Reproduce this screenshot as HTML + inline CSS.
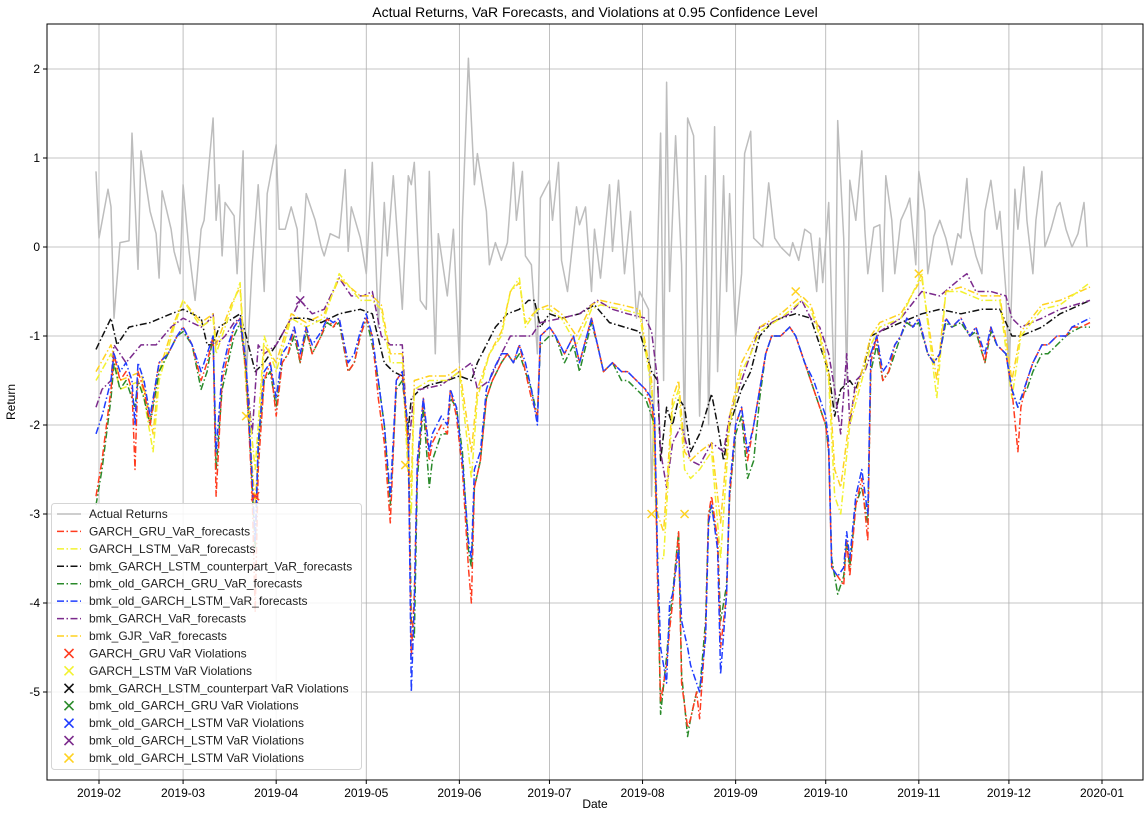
<!DOCTYPE html>
<html><head><meta charset="utf-8">
<style>
html,body{margin:0;padding:0;background:#fff;}
svg{display:block;font-family:"Liberation Sans","DejaVu Sans",sans-serif;}
</style></head>
<body>
<svg id="chart" width="1146" height="813" viewBox="0 0 1146 813">
<rect x="0" y="0" width="1146" height="813" fill="#fff"/>
<text x="595" y="17" font-size="14" text-anchor="middle" fill="#000">Actual Returns, VaR Forecasts, and Violations at 0.95 Confidence Level</text>
<text x="595" y="808" font-size="12" text-anchor="middle" fill="#000">Date</text>
<text x="15" y="402" font-size="12" text-anchor="middle" fill="#000" transform="rotate(-90 15 402)">Return</text>
<g id="grid"></g>
<g id="series"></g>
<rect x="47" y="24" width="1096" height="756" fill="none" stroke="#000" stroke-width="1"/>
<g id="ticks"></g>
<g id="legend"></g>
</svg>
<script>
// ---- data ----
const yTicks = [2, 1, 0, -1, -2, -3, -4, -5];
const xTickLabels = ["2019-02","2019-03","2019-04","2019-05","2019-06","2019-07","2019-08","2019-09","2019-10","2019-11","2019-12","2020-01"];
const xTickDays = [31, 59, 90, 120, 151, 181, 212, 243, 273, 304, 334, 365];

const actualDays = [30,31,34,35,36,38,41,42,44,45,48,50,51,52,55,56,58,59,61,63,65,66,69,70,71,72,73,76,77,79,80,82,84,86,87,90,91,93,95,97,98,100,102,103,105,106,108,111,113,114,115,118,120,122,124,126,127,129,131,132,134,135,136,138,140,141,143,144,147,149,151,152,154,156,157,160,161,163,165,167,169,170,172,173,175,177,178,181,182,184,185,187,190,191,193,195,196,198,201,202,204,206,208,210,211,214,215,218,219,220,221,223,225,226,227,229,231,233,234,236,237,239,240,241,243,245,246,248,249,252,254,256,258,261,262,264,266,268,270,271,272,274,276,277,279,280,281,283,285,286,287,289,291,292,293,295,296,298,300,301,303,304,306,307,309,311,313,315,317,318,320,321,323,325,326,328,330,331,333,334,336,337,339,340,342,343,345,346,348,350,351,353,355,357,359,360];
const actualVals = [0.85,0.1,0.65,0.45,-0.8,0.05,0.07,1.28,-0.25,1.08,0.4,0.15,-0.35,0.63,0.2,-0.05,-0.3,0.7,-0.05,-0.6,0.2,0.3,1.45,0.3,0.7,-0.1,0.5,0.35,-0.3,1.08,-1.5,-0.2,0.7,-0.5,0.6,1.15,0.2,0.2,0.45,0.2,-0.5,0.6,0.4,0.3,0,-0.1,0.15,0.1,0.87,-0.05,0.45,0.1,-0.3,0.95,-0.9,0.5,-0.1,0.8,-0.2,-0.7,0.8,0.7,0.95,-0.6,-0.7,0.85,-1.2,0.15,-0.55,0.2,-1.3,0.3,2.12,0.7,1.05,0.4,-0.2,0.05,-0.15,0.05,0.95,0.3,0.85,-0.1,-0.2,-1.2,0.55,0.75,0.3,0.95,-0.15,-0.5,0.45,0.25,0.45,-0.5,0.2,-0.35,0.7,-0.05,0.75,-0.3,0.4,-0.8,-0.5,-0.7,-2.8,1.28,-1.5,1.85,-0.5,1.25,-0.2,-2.2,1.45,1.25,-1.9,0.8,-2.0,1.35,-1.4,0.8,-0.5,0.6,-1.0,-0.3,1.05,1.3,0.1,0.0,0.72,0.1,0.0,-0.1,0.05,-0.15,0.2,0.15,-0.5,0.1,-0.4,0.5,-1.8,1.42,0.1,-1.5,0.75,0.3,1.08,0.2,-0.3,0.22,0.25,-0.5,0.8,0.3,-0.3,0.3,0.45,0.55,-0.2,0.85,0.4,-0.3,0.12,0.3,0.1,-0.2,0.15,0.1,0.77,0.2,-0.1,-0.3,0.4,0.75,0.2,0.4,-0.5,-1.5,0.65,0.2,0.9,0.3,-0.3,0.3,0.85,0.0,0.2,0.45,0.5,0.2,0.0,0.15,0.5,0.0];

const garchDays = [30,32,35,36,38,40,42,43,44,46,48,50,51,54,57,59,62,65,67,69,70,72,74,76,78,80,82,83,84,86,88,90,92,94,96,98,100,102,105,107,109,111,114,116,118,120,122,124,126,128,130,132,134,135,136,137,139,141,142,145,147,148,150,152,154,155,156,158,160,162,165,167,169,171,173,175,177,178,181,183,186,189,191,195,197,199,202,205,207,210,213,215,216,217,218,220,221,222,224,225,227,228,230,231,233,234,235,237,238,240,241,243,245,247,249,251,253,255,258,261,263,266,269,271,273,274,275,277,279,280,281,283,285,287,288,290,292,294,296,298,300,302,304,307,309,311,313,315,318,321,323,326,328,330,333,335,337,338,340,342,345,347,350,353,355,358,361];
const garchGruVals = [-2.8,-2.4,-1.6,-1.2,-1.5,-1.4,-1.6,-2.5,-1.4,-1.6,-2.0,-1.5,-1.3,-1.2,-1.0,-0.9,-1.1,-1.5,-1.3,-1.0,-2.8,-1.5,-1.2,-0.9,-0.8,-1.4,-2.8,-4.1,-2.5,-1.5,-1.3,-1.9,-1.3,-1.2,-0.9,-1.3,-0.9,-1.2,-1.0,-0.8,-0.9,-0.8,-1.4,-1.3,-1.0,-0.8,-1.0,-1.7,-2.2,-3.1,-1.5,-1.4,-2.2,-4.6,-3.9,-2.5,-1.7,-2.4,-2.2,-2.0,-2.1,-1.6,-1.9,-2.5,-3.6,-4.0,-2.7,-2.4,-1.7,-1.5,-1.3,-1.2,-1.3,-1.1,-1.4,-1.7,-1.9,-1.0,-0.9,-1.0,-1.2,-1.0,-1.3,-0.8,-1.1,-1.4,-1.3,-1.4,-1.4,-1.5,-1.6,-1.8,-2.0,-3.8,-5.1,-4.7,-4.3,-4.0,-3.2,-4.9,-5.4,-5.3,-5.0,-5.3,-4.3,-3.0,-2.8,-3.3,-4.5,-3.9,-2.8,-2.0,-1.8,-2.4,-2.0,-1.6,-1.2,-1.0,-1.0,-0.9,-1.0,-1.3,-1.6,-1.8,-2.0,-2.3,-3.6,-3.7,-3.8,-3.3,-3.7,-2.9,-2.6,-3.3,-1.3,-1.0,-1.5,-1.4,-1.1,-1.0,-0.8,-0.9,-0.8,-1.2,-1.3,-1.2,-0.8,-0.9,-0.8,-1.0,-0.9,-1.3,-0.9,-1.1,-1.2,-1.6,-2.3,-1.8,-1.5,-1.3,-1.1,-1.1,-1.0,-1.0,-0.9,-0.9,-0.85];
const oldGruVals = [-2.9,-2.5,-1.7,-1.3,-1.6,-1.5,-1.7,-1.8,-1.5,-1.7,-2.0,-1.6,-1.4,-1.2,-1.0,-0.95,-1.1,-1.6,-1.4,-1.0,-2.5,-1.6,-1.3,-1.0,-0.85,-1.4,-2.7,-3.4,-2.3,-1.5,-1.4,-1.8,-1.3,-1.2,-1.0,-1.3,-0.95,-1.2,-1.0,-0.85,-0.9,-0.85,-1.4,-1.3,-1.0,-0.8,-1.1,-1.5,-2.0,-2.9,-1.6,-1.5,-2.1,-4.2,-4.4,-2.6,-1.8,-2.7,-2.4,-2.1,-2.1,-1.7,-1.8,-2.3,-3.4,-3.6,-2.7,-2.4,-1.7,-1.5,-1.3,-1.2,-1.3,-1.2,-1.4,-1.6,-1.9,-1.1,-1.0,-1.0,-1.3,-1.1,-1.4,-0.85,-1.1,-1.4,-1.3,-1.5,-1.5,-1.6,-1.7,-1.9,-2.0,-3.6,-5.25,-4.6,-4.2,-3.9,-3.2,-4.8,-5.5,-5.3,-5.0,-5.0,-4.2,-3.0,-2.9,-3.3,-4.2,-3.8,-2.8,-2.1,-1.9,-2.6,-2.4,-1.7,-1.2,-1.0,-1.0,-0.9,-1.0,-1.3,-1.6,-1.8,-2.0,-2.3,-3.5,-3.9,-3.7,-3.3,-3.6,-2.9,-2.7,-3.1,-1.4,-1.1,-1.5,-1.4,-1.2,-1.0,-0.85,-0.9,-0.85,-1.2,-1.3,-1.2,-0.85,-0.9,-0.85,-1.0,-0.95,-1.3,-0.95,-1.1,-1.2,-1.6,-1.8,-1.7,-1.6,-1.4,-1.2,-1.2,-1.1,-1.0,-0.95,-0.9,-0.9];
const oldLstmVals = [-2.1,-1.9,-1.5,-1.2,-1.4,-1.3,-1.5,-2.0,-1.3,-1.5,-1.9,-1.5,-1.3,-1.2,-1.0,-0.9,-1.1,-1.4,-1.2,-1.0,-2.3,-1.4,-1.1,-0.9,-0.8,-1.3,-2.6,-3.3,-2.2,-1.4,-1.3,-1.7,-1.2,-1.1,-0.9,-1.2,-0.9,-1.1,-0.95,-0.8,-0.85,-0.8,-1.3,-1.2,-0.95,-0.75,-1.0,-1.5,-2.0,-2.8,-1.5,-1.4,-2.1,-5.0,-4.0,-2.4,-1.7,-2.3,-2.1,-1.9,-2.0,-1.6,-1.8,-2.4,-3.3,-3.5,-2.5,-2.3,-1.6,-1.4,-1.2,-1.2,-1.3,-1.1,-1.3,-1.6,-2.0,-1.0,-0.9,-1.0,-1.2,-1.0,-1.3,-0.8,-1.1,-1.4,-1.3,-1.4,-1.4,-1.5,-1.6,-1.7,-1.9,-3.5,-4.5,-4.9,-4.0,-3.9,-3.4,-4.2,-4.5,-4.7,-4.9,-5.0,-4.4,-3.1,-2.9,-3.4,-4.8,-3.9,-2.7,-2.0,-1.8,-2.3,-2.0,-1.6,-1.2,-1.0,-1.0,-0.9,-1.0,-1.3,-1.5,-1.7,-1.9,-2.2,-3.6,-3.7,-3.6,-3.2,-3.5,-2.8,-2.5,-3.0,-1.2,-1.0,-1.4,-1.3,-1.1,-1.0,-0.8,-0.9,-0.8,-1.2,-1.3,-1.2,-0.8,-0.9,-0.8,-1.0,-0.9,-1.2,-0.9,-1.1,-1.2,-1.6,-1.8,-1.7,-1.5,-1.3,-1.1,-1.1,-1.0,-1.0,-0.9,-0.85,-0.8];

const cpDays = [30,35,37,41,48,55,59,65,67,69,71,78,80,83,86,90,95,100,105,111,118,122,126,129,132,134,135,138,141,147,151,155,157,160,163,167,171,174,176,178,181,185,191,196,201,206,211,215,217,218,220,222,224,226,228,231,235,237,239,241,245,248,251,255,258,263,268,271,274,276,278,281,283,286,288,291,298,305,311,318,325,331,335,338,345,351,361];
const cpVals = [-1.15,-0.8,-1.1,-0.9,-0.85,-0.75,-0.7,-0.8,-1.1,-1.1,-0.9,-0.75,-1.0,-1.4,-1.3,-1.1,-0.8,-0.8,-0.85,-0.75,-0.7,-0.75,-1.3,-1.4,-1.45,-2.05,-1.7,-1.6,-1.55,-1.5,-1.45,-1.5,-1.3,-1.1,-0.9,-0.75,-0.7,-0.6,-0.6,-0.9,-0.75,-0.8,-0.75,-0.65,-0.85,-0.9,-0.95,-1.4,-1.5,-2.4,-1.8,-2.0,-1.7,-1.8,-2.3,-2.1,-1.65,-2.0,-2.4,-2.0,-1.6,-1.4,-1.0,-0.85,-0.8,-0.75,-0.8,-1.1,-1.4,-1.9,-1.6,-1.5,-1.6,-1.3,-1.0,-0.95,-0.85,-0.75,-0.7,-0.75,-0.7,-0.7,-1.0,-1.0,-0.9,-0.75,-0.6];

const bmkDays = [30,32,35,36,40,45,50,55,59,65,67,69,70,73,76,78,80,82,84,86,90,95,98,102,106,111,115,119,122,125,128,132,134,136,138,145,151,155,157,161,165,168,171,175,178,185,191,197,202,207,213,215,217,218,220,222,225,228,231,235,239,241,245,248,251,255,258,261,265,268,271,274,276,278,280,281,283,286,289,291,298,305,311,318,320,323,328,333,335,338,345,351,361];
const bmkVals = [-1.8,-1.6,-1.5,-1.1,-1.3,-1.1,-1.1,-0.9,-0.8,-0.9,-0.85,-0.75,-1.1,-1.0,-0.85,-0.8,-1.4,-2.1,-1.1,-1.2,-1.1,-0.8,-0.6,-0.75,-0.7,-0.35,-0.55,-0.55,-0.5,-1.0,-1.1,-1.1,-2.3,-1.6,-1.6,-1.55,-1.4,-1.3,-1.6,-1.5,-1.2,-1.0,-1.0,-1.0,-0.85,-0.8,-0.75,-0.6,-0.7,-0.75,-0.8,-0.95,-1.5,-2.3,-2.7,-2.2,-2.0,-2.4,-2.45,-2.2,-2.3,-1.9,-1.5,-1.2,-0.9,-0.85,-0.8,-0.75,-0.6,-0.8,-0.9,-1.2,-1.6,-2.1,-1.2,-2.0,-1.5,-1.4,-1.1,-0.95,-0.8,-0.5,-0.55,-0.35,-0.3,-0.5,-0.5,-0.55,-0.8,-0.9,-0.8,-0.7,-0.6];

const lstmDays = [30,35,38,45,49,51,56,59,65,69,70,75,78,80,83,86,90,95,100,106,111,118,122,125,128,132,134,135,136,141,147,151,155,157,161,165,168,171,173,177,181,185,190,195,198,205,211,215,217,219,222,224,226,228,231,235,238,241,245,248,251,258,265,268,271,274,276,278,281,285,288,291,298,305,310,313,318,325,331,335,338,345,351,361];
const lstmVals = [-1.5,-1.2,-1.6,-1.5,-2.3,-1.5,-0.9,-0.6,-0.9,-0.8,-1.2,-0.7,-0.4,-1.5,-2.5,-1.0,-1.4,-0.8,-0.9,-0.8,-0.3,-0.6,-0.6,-0.7,-1.3,-1.3,-2.6,-3.0,-1.6,-1.5,-1.5,-1.4,-2.6,-1.7,-1.2,-1.0,-0.5,-0.35,-0.9,-0.7,-0.7,-0.8,-1.1,-0.7,-0.65,-0.7,-0.75,-1.6,-3.5,-3.5,-1.8,-1.6,-2.5,-2.6,-2.5,-2.3,-3.5,-2.0,-1.4,-1.2,-0.95,-0.8,-0.6,-0.7,-1.0,-1.5,-2.8,-3.0,-2.0,-1.5,-1.1,-0.9,-0.8,-0.3,-1.7,-0.5,-0.5,-0.6,-0.6,-1.7,-1.0,-0.7,-0.65,-0.4];
const gjrVals = [-1.4,-1.1,-1.5,-1.4,-2.1,-1.4,-0.85,-0.6,-0.85,-0.75,-1.1,-0.65,-0.45,-1.6,-2.9,-1.1,-1.3,-0.75,-0.85,-0.75,-0.35,-0.55,-0.55,-0.65,-1.2,-1.2,-2.4,-2.7,-1.5,-1.45,-1.45,-1.35,-2.3,-1.6,-1.2,-0.95,-0.5,-0.4,-0.85,-0.7,-0.65,-0.75,-1.0,-0.65,-0.6,-0.65,-0.7,-1.5,-3.0,-3.2,-1.7,-1.5,-2.3,-2.4,-2.3,-2.2,-3.1,-1.9,-1.3,-1.1,-0.9,-0.75,-0.55,-0.65,-0.95,-1.4,-2.5,-2.7,-1.9,-1.4,-1.0,-0.85,-0.75,-0.35,-1.5,-0.5,-0.45,-0.55,-0.55,-1.5,-0.95,-0.65,-0.6,-0.45];

const violDays = [80,83,133,215,226,263,304,98];
const violVals = [-1.9,-2.8,-2.45,-3.0,-3.0,-0.5,-0.3,-0.6];
const violColors = ["#ffd21f","#ff3b1f","#ffd21f","#ffd21f","#ffd21f","#ffd21f","#ffd21f","#7b2a8c"];

// ---- scales ----
const x = d => 99 + (d - 31) * 3.003;
const y = v => 247 - v * 89;
const NS = "http://www.w3.org/2000/svg";
function mk(tag, attrs, parent){ const e=document.createElementNS(NS,tag); for(const k in attrs) e.setAttribute(k,attrs[k]); parent.appendChild(e); return e; }

const grid = document.getElementById('grid');
const ticks = document.getElementById('ticks');
yTicks.forEach(t => {
  const gl = mk('line',{x1:47,x2:1143,y1:y(t),y2:y(t),stroke:'#b0b0b0','stroke-width':0.8},grid);
  
  
  const tk = mk('line',{x1:43,x2:47,y1:y(t),y2:y(t),stroke:'#000'},ticks);
  
  
  const tl = mk('text',{x:40,y:y(t)+4,'font-size':12,'text-anchor':'end',fill:'#000'},ticks);
  tl.textContent = t;
  
  
});
xTickDays.forEach((d,i) => {
  const gl = mk('line',{x1:x(d),x2:x(d),y1:24,y2:780,stroke:'#b0b0b0','stroke-width':0.8},grid);
  
  
  const tk = mk('line',{x1:x(d),x2:x(d),y1:780,y2:784,stroke:'#000'},ticks);
  
  
  const tl = mk('text',{x:x(d),y:797,'font-size':12,'text-anchor':'middle',fill:'#000'},ticks);
  tl.textContent = xTickLabels[i];
  
  
});

const series = document.getElementById('series');
const DASH = '7,2.5,1.5,2.5';
function line(days, vals, color, dash, name, w){
  const n = Math.min(days.length, vals.length);
  let d = '';
  for(let i=0;i<n;i++) d += (i?'L':'M') + x(days[i]).toFixed(1) + ' ' + y(vals[i]).toFixed(1);
  const p = mk('path',{d:d,fill:'none',stroke:color,'stroke-width':w||1.5,'stroke-dasharray':dash||'none','stroke-linejoin':'round'},series);
  
  
}
line(actualDays, actualVals, '#bdbdbd', null, 'actual-returns-line', 1.5);
line(cpDays, cpVals, '#111', DASH, 'bmk-garch-lstm-counterpart-line');
line(bmkDays, bmkVals, '#7b2a8c', DASH, 'bmk-garch-line');
line(lstmDays, gjrVals, '#ffd21f', DASH, 'bmk-gjr-line');
line(lstmDays, lstmVals, '#f2f230', DASH, 'garch-lstm-line');
line(garchDays, oldGruVals, '#2a8a2a', DASH, 'bmk-old-garch-gru-line');
line(garchDays, garchGruVals, '#ff3b1f', DASH, 'garch-gru-line');
line(garchDays, oldLstmVals, '#1f3cff', DASH, 'bmk-old-garch-lstm-line');

violDays.forEach((d,i) => {
  const cx=x(d), cy=y(violVals[i]), s=4;
  const g = mk('path',{d:`M${cx-s} ${cy-s}L${cx+s} ${cy+s}M${cx-s} ${cy+s}L${cx+s} ${cy-s}`,stroke:violColors[i],'stroke-width':1.5,fill:'none'},series);
  
  
});

// ---- legend ----
const legendLabels = ["Actual Returns","GARCH_GRU_VaR_forecasts","GARCH_LSTM_VaR_forecasts","bmk_GARCH_LSTM_counterpart_VaR_forecasts","bmk_old_GARCH_GRU_VaR_forecasts","bmk_old_GARCH_LSTM_VaR_forecasts","bmk_GARCH_VaR_forecasts","bmk_GJR_VaR_forecasts","GARCH_GRU VaR Violations","GARCH_LSTM VaR Violations","bmk_GARCH_LSTM_counterpart VaR Violations","bmk_old_GARCH_GRU VaR Violations","bmk_old_GARCH_LSTM VaR Violations","bmk_old_GARCH_LSTM VaR Violations","bmk_old_GARCH_LSTM VaR Violations"];
const legendColors = ["#bdbdbd","#ff3b1f","#f2f230","#111","#2a8a2a","#1f3cff","#7b2a8c","#ffd21f","#ff3b1f","#f2f230","#111","#2a8a2a","#1f3cff","#7b2a8c","#ffd21f"];
const legend = document.getElementById('legend');
const box = mk('rect',{x:51.5,y:503.5,width:310,height:266,rx:3,fill:'#fff','fill-opacity':0.85,stroke:'#d5d5d5'},legend);


legendLabels.forEach((lab,i) => {
  const ly = 514 + i*17.43;
  const col = legendColors[i];
  if(i===0){
    const s = mk('line',{x1:57,x2:81,y1:ly,y2:ly,stroke:col,'stroke-width':1.5},legend);
    
    
  } else if(i<8){
    const s = mk('line',{x1:57,x2:81,y1:ly,y2:ly,stroke:col,'stroke-width':1.5,'stroke-dasharray':DASH},legend);
    
    
  } else {
    const cx=69, s=4.5;
    const m = mk('path',{d:`M${cx-s} ${ly-s}L${cx+s} ${ly+s}M${cx-s} ${ly+s}L${cx+s} ${ly-s}`,stroke:col,'stroke-width':1.6,fill:'none'},legend);
    
    
  }
  const t = mk('text',{x:89,y:ly+4,'font-size':12,fill:'#222'},legend);
  t.textContent = lab;
  
  
});
</script>
</body></html>
